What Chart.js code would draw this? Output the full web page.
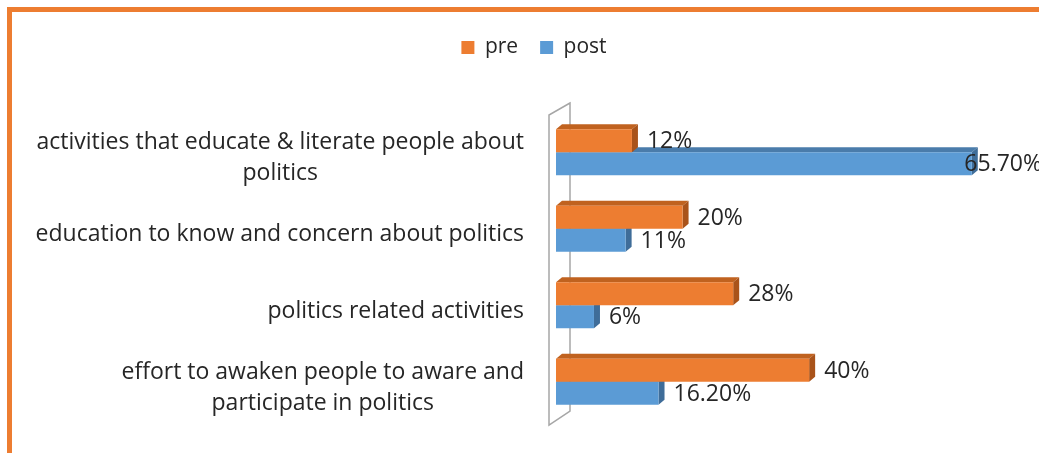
<!DOCTYPE html>
<html>
<head>
<meta charset="utf-8">
<script src="https://cdn.jsdelivr.net/npm/chart.js@4.4.1/dist/chart.umd.min.js"></script>
<style>
  html, body { margin: 0; padding: 0; background: #ffffff; overflow: hidden; }
  #wrap { position: relative; width: 1039px; height: 453px; overflow: hidden; }
  #frame { position: absolute; left: 7px; top: 7px; width: 1100px; height: 520px; border: 5px solid #ED7D31; box-sizing: border-box; }
  #c { position: absolute; left: 0; top: 0; }
</style>
</head>
<body>
<div id="wrap">
  <div id="frame"></div>
  <canvas id="c" width="1039" height="453"></canvas>
</div>
<script>
const categories = [
  ["activities that educate & literate people about", "politics"],
  ["education to know and concern about politics"],
  ["politics related activities"],
  ["effort to awaken people to aware and", "participate in politics"]
];
const seriesNames = ["pre", "post"];
const preValues = [12, 20, 28, 40];
const postValues = [65.7, 11, 6, 16.2];

const FONT = "'Open Sans', 'DejaVu Sans', sans-serif";
const TEXT = "#262626";
const DEPTH_X = 6, DEPTH_Y = 5;
const sideColors = [
  { top: "#C0621F", side: "#A9531A" },
  { top: "#4A7CAB", side: "#3F6D99" }
];

function fmt(v) { return Number.isInteger(v) ? v + "%" : v.toFixed(2) + "%"; }

const threeD = {
  id: "threeD",
  beforeDatasetsDraw(chart) {
    const ctx = chart.ctx;
    const a = chart.chartArea;
    // back wall (3D axis plane)
    ctx.save();
    ctx.strokeStyle = "#A6A6A6";
    ctx.lineWidth = 1.5;
    const lx = a.left - 7, rx = a.left + 14;
    ctx.beginPath();
    ctx.moveTo(rx, a.top - 11);
    ctx.lineTo(lx, a.top + 1);
    ctx.lineTo(lx, a.bottom + 5);
    ctx.lineTo(rx, a.bottom - 9);
    ctx.closePath();
    ctx.stroke();
    ctx.restore();
    // depth faces
    ctx.save();
    for (const di of [1, 0]) {
      const meta = chart.getDatasetMeta(di);
      meta.data.forEach(el => {
        const p = el.getProps(["x", "y", "base", "height"], true);
        const top = p.y - p.height / 2, bot = p.y + p.height / 2;
        ctx.fillStyle = sideColors[di].top;
        ctx.beginPath();
        ctx.moveTo(p.base, top);
        ctx.lineTo(p.base + DEPTH_X, top - DEPTH_Y);
        ctx.lineTo(p.x + DEPTH_X, top - DEPTH_Y);
        ctx.lineTo(p.x, top);
        ctx.closePath();
        ctx.fill();
        ctx.fillStyle = sideColors[di].side;
        ctx.beginPath();
        ctx.moveTo(p.x, top);
        ctx.lineTo(p.x + DEPTH_X, top - DEPTH_Y);
        ctx.lineTo(p.x + DEPTH_X, bot - DEPTH_Y);
        ctx.lineTo(p.x, bot);
        ctx.closePath();
        ctx.fill();
      });
    }
    ctx.restore();
  },
  afterDatasetsDraw(chart) {
    const ctx = chart.ctx;
    ctx.save();
    ctx.fillStyle = TEXT;
    ctx.textBaseline = "middle";
    ctx.textAlign = "left";
    ctx.font = "23px " + FONT;
    chart.data.datasets.forEach((ds, di) => {
      const meta = chart.getDatasetMeta(di);
      meta.data.forEach((el, i) => {
        const t = fmt(ds.data[i]);
        const w = ctx.measureText(t).width;
        let x = el.x + 15;
        if (x + w > chart.width + 3) x = chart.width + 3 - w;
        ctx.fillText(t, x, el.y + 1);
      });
    });
    // category labels
    const ys = chart.scales.y;
    const right = chart.chartArea.left - 32;
    ctx.font = "23px " + FONT;
    ctx.textAlign = "center";
    categories.forEach((lines, i) => {
      const cy = ys.getPixelForValue(i) + 6;
      const maxW = Math.max(...lines.map(l => ctx.measureText(l).width));
      const cx = right - maxW / 2;
      const lh = 31;
      lines.forEach((l, j) => {
        ctx.fillText(l, cx, cy + (j - (lines.length - 1) / 2) * lh);
      });
    });
    ctx.restore();
  }
};

new Chart(document.getElementById("c"), {
  type: "bar",
  data: {
    labels: categories.map(c => c.join(" ")),
    datasets: [
      { label: seriesNames[0], data: preValues, backgroundColor: "#ED7D31" },
      { label: seriesNames[1], data: postValues, backgroundColor: "#5B9BD5" }
    ]
  },
  options: {
    indexAxis: "y",
    responsive: false,
    animation: false,
    layout: { padding: { left: 69, right: 40, top: 15, bottom: 33 } },
    datasets: { bar: { barPercentage: 1.0, categoryPercentage: 0.6 } },
    scales: {
      x: {
        position: "top",
        min: 0, max: 70,
        grid: { display: false },
        border: { display: false },
        ticks: { display: false },
        afterFit(scale) { scale.height = 46; }
      },
      y: {
        grid: { display: false },
        border: { display: false },
        ticks: { display: false },
        afterFit(scale) { scale.width = 487; }
      }
    },
    plugins: {
      legend: {
        position: "top",
        labels: {
          boxWidth: 13, boxHeight: 13, padding: 22,
          color: TEXT,
          font: { family: FONT, size: 21 }
        }
      },
      tooltip: { enabled: false }
    }
  },
  plugins: [threeD]
});
</script>
</body>
</html>
